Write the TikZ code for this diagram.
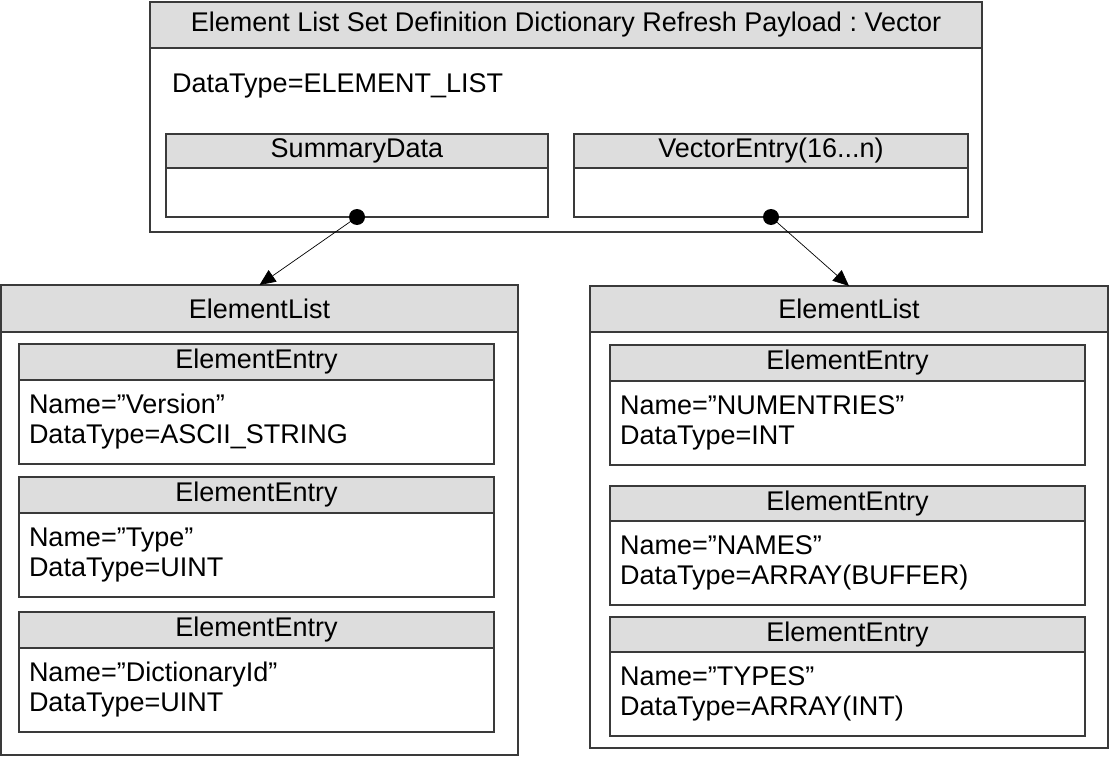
\documentclass[tikz,border=0pt]{standalone}
\usepackage{fontspec}
\setmainfont{Liberation Sans}
\usepackage{tikz}
\usetikzlibrary{arrows.meta,positioning}
\definecolor{hdfill}{HTML}{DDDDDD}
\definecolor{boxline}{HTML}{3A3A3A}
\frenchspacing

\begin{document}
\begin{tikzpicture}[x=1pt,y=-1pt,font=\fontsize{27}{30}\selectfont,
  hd/.style={draw=boxline,fill=hdfill,line width=1.3pt,outer sep=0pt,inner sep=0pt,anchor=north west},
  bd/.style={draw=boxline,fill=white,line width=1.3pt,outer sep=0pt,inner xsep=10pt,inner ysep=0pt,align=left},
  arr/.style={-{Triangle[length=16pt,width=14pt]},line width=0.7pt},
  dot/.style={circle,fill=black,inner sep=0pt,minimum size=16pt}]
\useasboundingbox (0,0) rectangle (1109,757);
% payload vector
\node[hd,minimum width=832pt,minimum height=46pt] (vh) at (150,2) {Element List Set Definition Dictionary Refresh Payload : Vector};
\node[bd,minimum width=832pt,minimum height=184pt,below=0pt of vh,
  label={[anchor=base west,inner sep=0pt,xshift=22pt,yshift=-45pt]north west:DataType=ELEMENT\_LIST}] (vb) {};
\node[hd,minimum width=382pt,minimum height=34pt] (sh) at (166,134) {SummaryData};
\node[bd,minimum width=382pt,minimum height=49pt,below=0pt of sh] (sb) {};
\node[hd,minimum width=394pt,minimum height=34pt] (ch) at (574,134) {VectorEntry(16...n)};
\node[bd,minimum width=394pt,minimum height=49pt,below=0pt of ch] (cb) {};
% left element list
\node[hd,minimum width=517pt,minimum height=47pt] (l1h) at (1,285) {ElementList};
\node[bd,minimum width=517pt,minimum height=423pt,below=0pt of l1h] (l1b) {};
\node[hd,minimum width=475pt,minimum height=36pt] (a1h) at (19,344) {ElementEntry};
\node[bd,text width=455pt,minimum height=84pt,below=0pt of a1h] (a1b) {Name=”Version”\\DataType=ASCII\_STRING};
\node[hd,minimum width=475pt,minimum height=36pt] (a2h) at (19,477) {ElementEntry};
\node[bd,text width=455pt,minimum height=84pt,below=0pt of a2h] (a2b) {Name=”Type”\\DataType=UINT};
\node[hd,minimum width=475pt,minimum height=36pt] (a3h) at (19,612) {ElementEntry};
\node[bd,text width=455pt,minimum height=84pt,below=0pt of a3h] (a3b) {Name=”DictionaryId”\\DataType=UINT};
% right element list
\node[hd,minimum width=518pt,minimum height=46pt] (l2h) at (590,286) {ElementList};
\node[bd,minimum width=518pt,minimum height=416pt,below=0pt of l2h] (l2b) {};
\node[hd,minimum width=475pt,minimum height=36pt] (b1h) at (610,345) {ElementEntry};
\node[bd,text width=455pt,minimum height=84pt,below=0pt of b1h] (b1b) {Name=”NUMENTRIES”\\DataType=INT};
\node[hd,minimum width=475pt,minimum height=35pt] (b2h) at (610,486) {ElementEntry};
\node[bd,text width=455pt,minimum height=84pt,below=0pt of b2h] (b2b) {Name=”NAMES”\\DataType=ARRAY(BUFFER)};
\node[hd,minimum width=475pt,minimum height=35pt] (b3h) at (610,617) {ElementEntry};
\node[bd,text width=455pt,minimum height=84pt,below=0pt of b3h] (b3b) {Name=”TYPES”\\DataType=ARRAY(INT)};
% links
\node[dot] (sd) at (sb.south) {};
\node[dot] (cd) at (cb.south) {};
\draw[arr] (sd.center) -- (l1h.north);
\draw[arr] (cd.center) -- (l2h.north);
\end{tikzpicture}
\end{document}
